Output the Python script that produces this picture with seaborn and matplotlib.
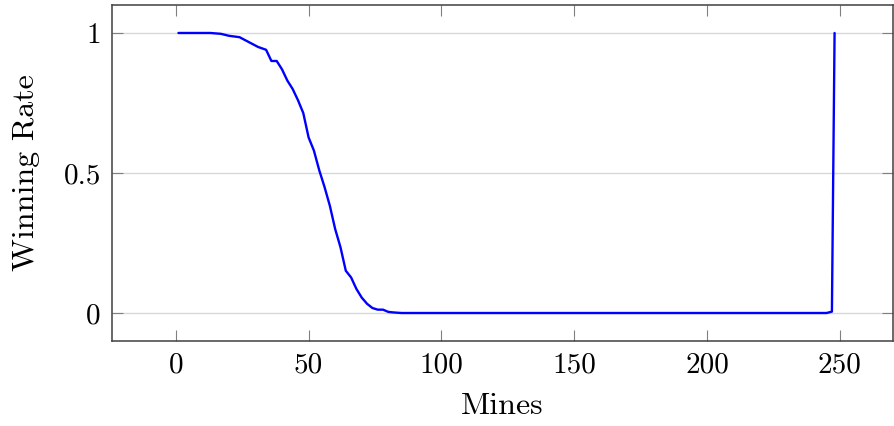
import matplotlib
matplotlib.use("Agg")
import matplotlib.pyplot as plt
import seaborn as sns
import pandas as pd

# Data
mines = [1, 5, 10, 13, 17, 20, 24, 28, 31, 34, 36, 38, 40, 42, 44, 46, 48, 50,
         52, 54, 56, 58, 60, 62, 64, 66, 68, 70, 72, 74, 76, 78, 80, 82, 85,
         120, 160, 200, 245, 247, 248]
winning_rate = [1.0, 1.0, 1.0, 1.0, 0.997, 0.99, 0.985, 0.965, 0.95, 0.94, 0.90, 0.90,
                0.87, 0.83, 0.80, 0.76, 0.714, 0.627, 0.58, 0.51, 0.45, 0.383, 0.30,
                0.235, 0.151, 0.127, 0.086, 0.055, 0.033, 0.018, 0.012, 0.012, 0.004,
                0.002, 0.0, 0.0, 0.0, 0.0, 0.0, 0.005, 1.0]
x_ticks = [0, 50, 100, 150, 200, 250]
y_ticks = [0, 0.5, 1]
y_tick_labels = ["0", "0.5", "1"]

sns.set_style("white")
plt.rcParams["font.family"] = ["cmr10", "DejaVu Serif"]
plt.rcParams["axes.formatter.use_mathtext"] = True
plt.rcParams["text.color"] = "black"
plt.rcParams["axes.labelcolor"] = "black"
plt.rcParams["xtick.labelcolor"] = "black"
plt.rcParams["ytick.labelcolor"] = "black"

df = pd.DataFrame({"Mines": mines, "Winning Rate": winning_rate})

fig = plt.figure(figsize=(8.94, 4.26), dpi=100)
ax = fig.add_axes([0.1253, 0.1995, 0.8736, 0.7888])
sns.lineplot(data=df, x="Mines", y="Winning Rate", ax=ax, color="#0000ff",
             linewidth=1.7, zorder=3)

ax.set_xlim(-24, 270)
ax.set_ylim(-0.1, 1.1)
ax.set_xticks(x_ticks)
ax.set_xticklabels([str(t) for t in x_ticks])
ax.set_yticks(y_ticks)
ax.set_yticklabels(y_tick_labels)
ax.yaxis.grid(True, color="#d8d8d8", linewidth=1.0)
ax.xaxis.grid(False)
ax.tick_params(axis="both", which="major", direction="in", length=8, width=0.8,
               color="#808080", labelsize=21, labelcolor="black", top=True,
               right=True, bottom=True, left=True, pad=8)
for s in ax.spines.values():
    s.set_color("#404040")
    s.set_linewidth(1.1)
ax.set_xlabel("Mines", fontsize=23, labelpad=10, color="black")
ax.set_ylabel("Winning Rate", fontsize=23, labelpad=17, color="black")

fig.savefig("out.png", dpi=100)
